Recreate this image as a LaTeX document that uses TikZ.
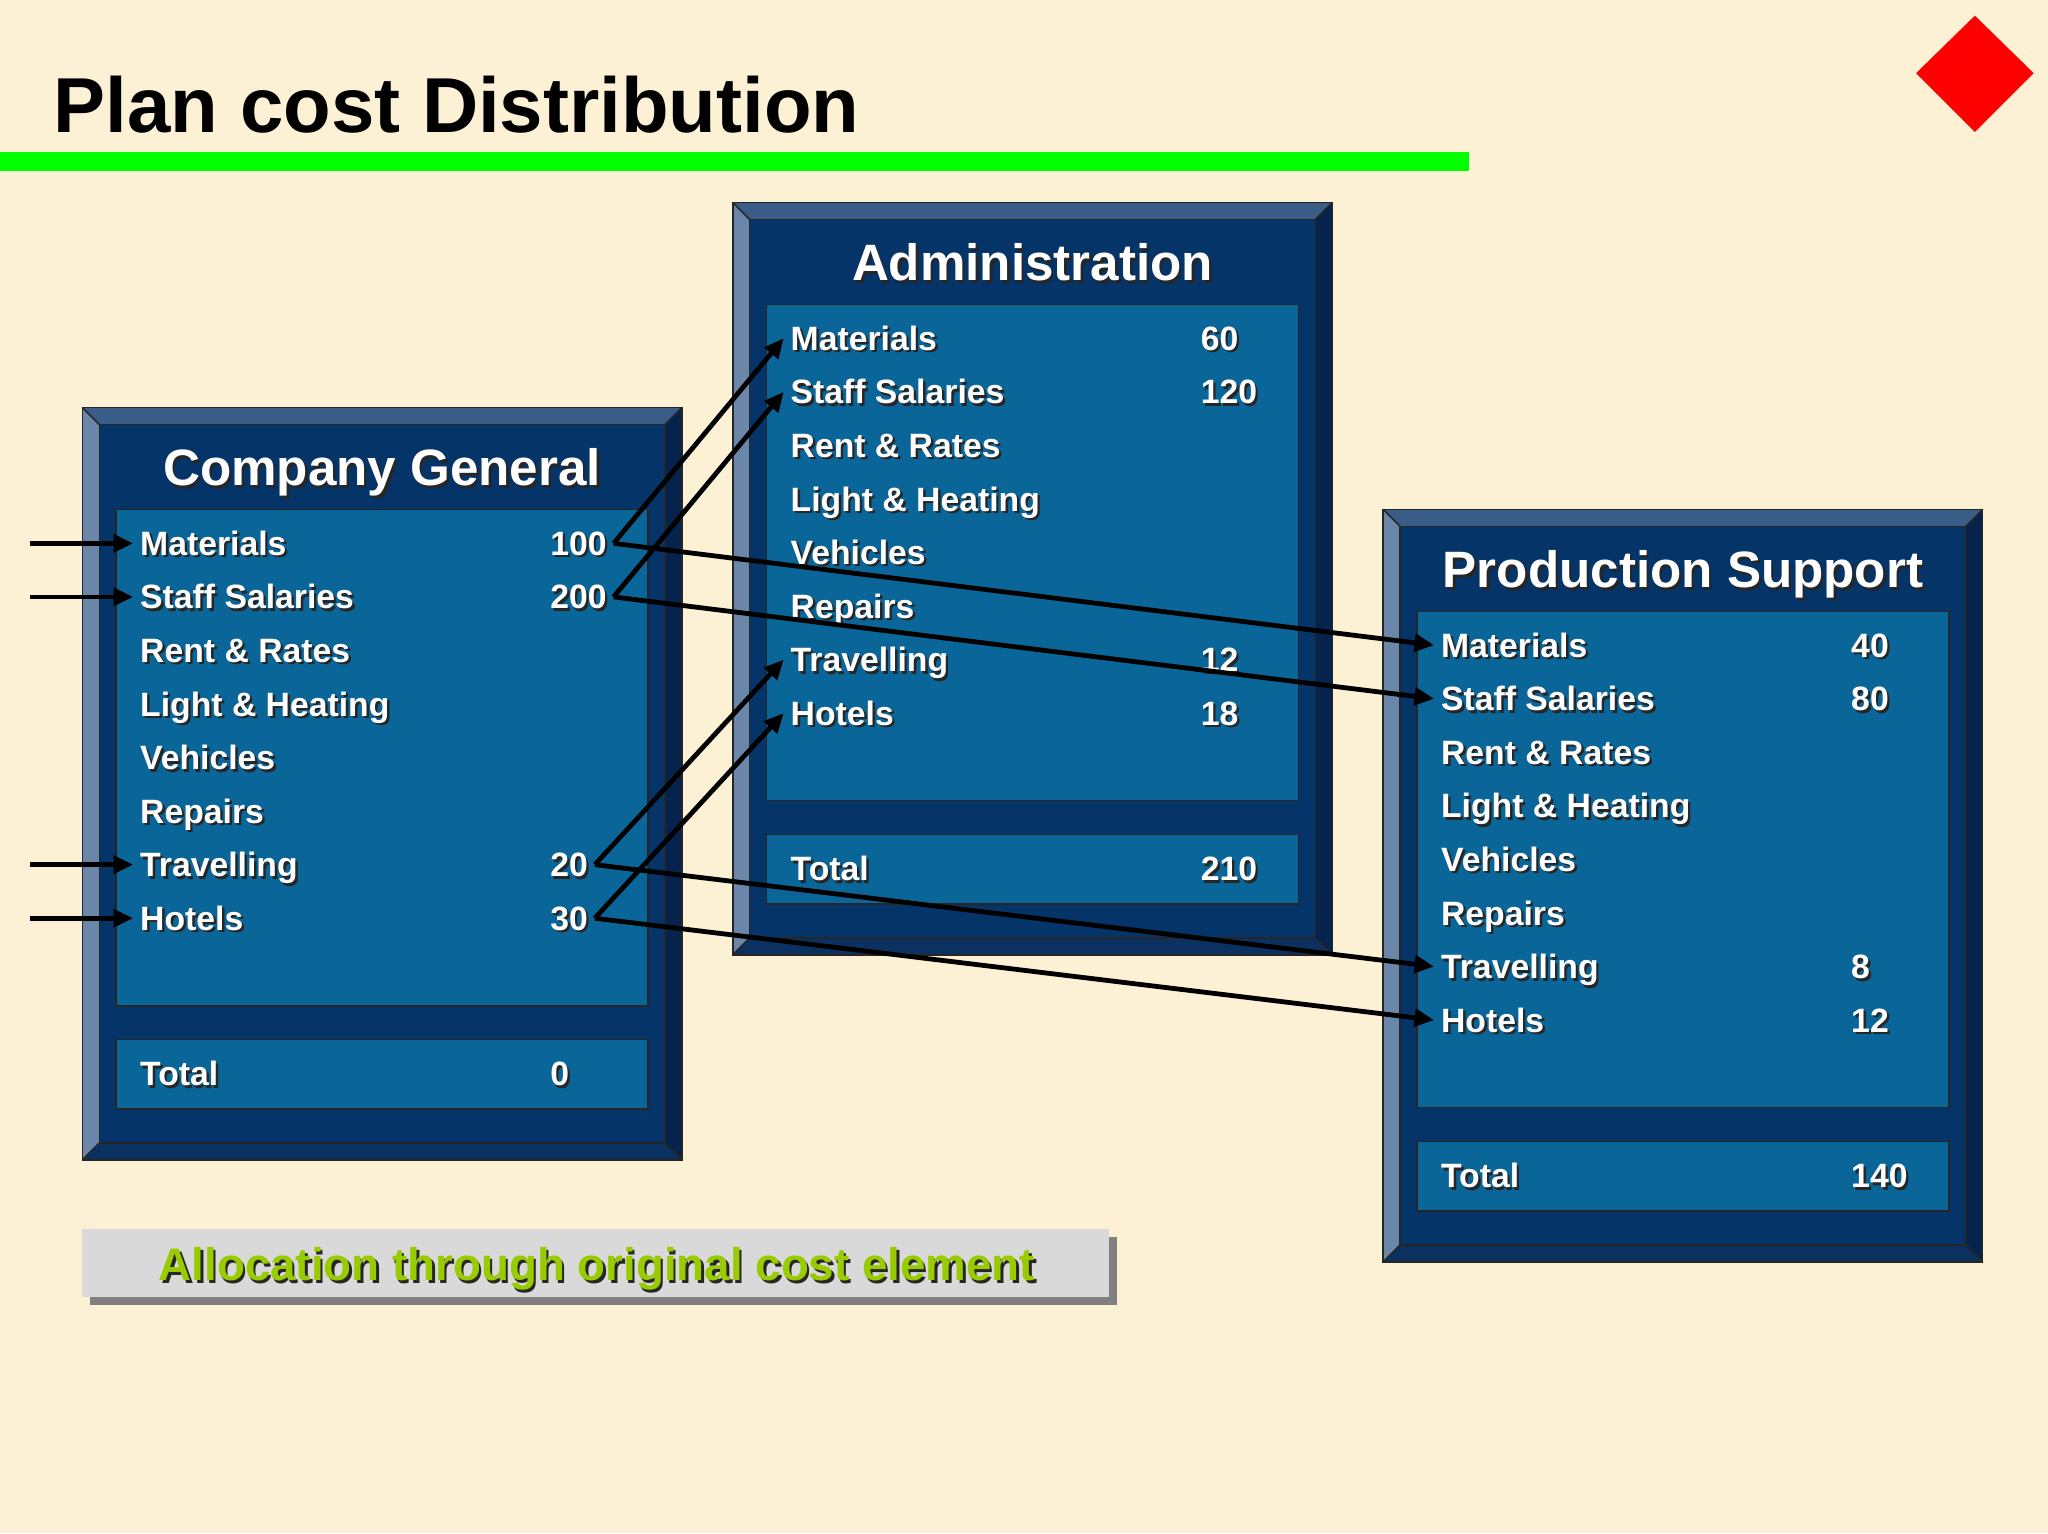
\documentclass[tikz,border=0pt]{standalone}
\usepackage{fontspec}
\setmainfont{Liberation Sans}
\usetikzlibrary{arrows.meta}
\definecolor{bgcream}{HTML}{FCF1D5}
\definecolor{navy}{HTML}{043468}
\definecolor{panelblue}{HTML}{0A6699}
\definecolor{bevtop}{HTML}{3A5D88}
\definecolor{bevleft}{HTML}{6A87AA}
\definecolor{bevright}{HTML}{05234C}
\definecolor{bevbot}{HTML}{0A3160}
\definecolor{labelgreen}{HTML}{99CC00}
\definecolor{labelgray}{HTML}{D9D9D9}
\definecolor{shadowgray}{HTML}{808080}
\newcommand{\shtxt}[1]{{\makebox[0pt][l]{\hspace{1.1pt}\raisebox{-1.1pt}{\color{black!85}#1}}#1}}
\tikzset{
  edge/.style={draw=black!85, line width=0.7pt},
  item/.style={anchor=west, inner xsep=3pt, inner ysep=0pt, text=white,
    font=\bfseries\fontsize{15.5pt}{18pt}\selectfont, text height=11.1pt, text depth=0pt},
  boxtitle/.style={inner sep=0pt, text=white,
    font=\bfseries\fontsize{23.5pt}{28pt}\selectfont, text height=16.8pt, text depth=0pt},
  arr/.style={line width=2.2pt, -{Triangle[length=9pt,width=8pt]}},
}
\newcommand{\costbox}[9]{%
\begin{scope}[shift={(#2,#3)}]
 \fill[navy] (0,0) rectangle (459,576);
 \fill[bevtop] (0,0) -- (459,0) -- (446,13) -- (13,13) -- cycle;
 \fill[bevleft] (0,0) -- (13,13) -- (13,563) -- (0,576) -- cycle;
 \fill[bevright] (459,0) -- (459,576) -- (446,563) -- (446,13) -- cycle;
 \fill[bevbot] (0,576) -- (459,576) -- (446,563) -- (13,563) -- cycle;
 \draw[edge] (0,0) rectangle (459,576);
 \draw[edge] (13,13) rectangle (446,563);
 \draw[edge] (0,0) -- (13,13) (459,0) -- (446,13) (0,576) -- (13,563) (459,576) -- (446,563);
 \node[boxtitle] (#1-title) at (229.5,46) {\shtxt{#4}};
 \draw[edge, fill=panelblue] (26,78) rectangle (433,458);
 \draw[edge, fill=panelblue] (26,484) rectangle (433,537);
 \foreach \lab/\key [count=\i from 0] in {Materials/mat, Staff Salaries/sal, Rent \& Rates/rent, Light \& Heating/light, Vehicles/veh, Repairs/rep, Travelling/trav, Hotels/hot}
   {\node[item] (#1-\key) at (39,104+41*\i) {\shtxt{\lab}};}
 \node[item] (#1-mat-v) at (353,104) {\shtxt{#5}};
 \node[item] (#1-sal-v) at (353,145) {\shtxt{#6}};
 \node[item] (#1-trav-v) at (353,350) {\shtxt{#7}};
 \node[item] (#1-hot-v) at (353,391) {\shtxt{#8}};
 \node[item] (#1-tot) at (39,510) {\shtxt{Total}};
 \node[item] (#1-tot-v) at (353,510) {\shtxt{#9}};
\end{scope}}
\begin{document}
\begin{tikzpicture}[x=0.6pt, y=-0.6pt]
\fill[bgcream] (0,0) rectangle (1568,1174);
\useasboundingbox (0,0) rectangle (1568,1174);
% header
\node[anchor=west, inner sep=0pt, font=\bfseries\fontsize{35.8pt}{40pt}\selectfont, text height=25.6pt, text depth=0pt] (maintitle) at (41,80) {Plan cost Distribution};
\fill[green] (0,116) rectangle (1125,131);
\fill[red] (1512,12) -- (1557,56) -- (1512,101) -- (1467,56) -- cycle;
% boxes
\costbox{cg}{63}{312}{Company General}{100}{200}{20}{30}{0}
\costbox{ad}{561}{155}{Administration}{60}{120}{12}{18}{210}
\costbox{ps}{1059}{390}{Production Support}{40}{80}{8}{12}{140}
% incoming arrows
\coordinate (in-mat) at (23,416);
\coordinate (in-sal) at (23,457);
\coordinate (in-trav) at (23,662);
\coordinate (in-hot) at (23,703);
\foreach \k in {mat,sal,trav,hot}{
  \draw[arr] (in-\k) -- (cg-\k.west);
  \draw[arr] (cg-\k-v.east) -- (ad-\k.west);
  \draw[arr] (cg-\k-v.east) -- (ps-\k.west);
}
% bottom label
\fill[shadowgray] (69,947) rectangle (855,999);
\fill[labelgray] (63,941) rectangle (849,993);
\node[inner sep=0pt, text=labelgreen, font=\bfseries\fontsize{21pt}{24pt}\selectfont, text height=15pt, text depth=0pt] (alloc) at (457,968) {\shtxt{Allocation through original cost element}};
\end{tikzpicture}
\end{document}
